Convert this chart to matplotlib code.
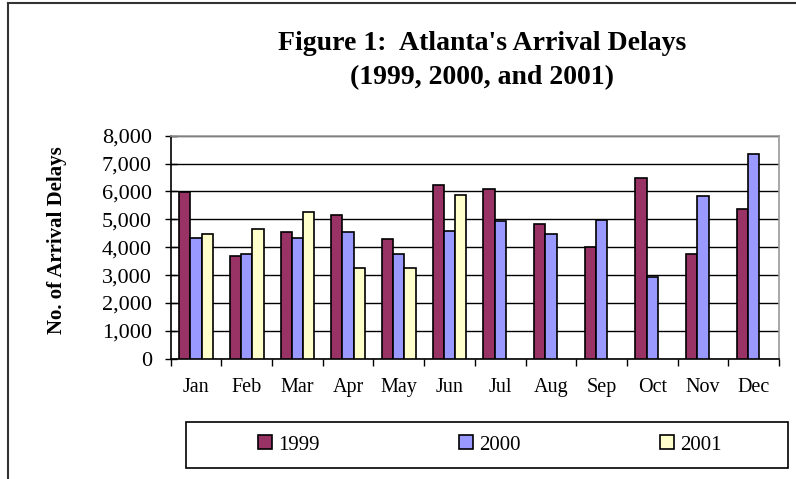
import numpy as np
import matplotlib
matplotlib.use("Agg")
import matplotlib.pyplot as plt
from matplotlib.ticker import FuncFormatter, FixedLocator
from matplotlib.lines import Line2D
from matplotlib.patches import Rectangle

months = ["Jan", "Feb", "Mar", "Apr", "May", "Jun",
          "Jul", "Aug", "Sep", "Oct", "Nov", "Dec"]
delays_1999 = [5970, 3700, 4530, 5170, 4280, 6220, 6090, 4840, 4020, 6470, 3760, 5370]
delays_2000 = [4340, 3740, 4340, 4530, 3740, 4590, 4930, 4460, 4990, 2920, 5840, 7330]
delays_2001 = [4460, 4670, 5250, 3240, 3240, 5890, None, None, None, None, None, None]

series = [("1999", delays_1999, "#993366"),
          ("2000", delays_2000, "#9999FF"),
          ("2001", delays_2001, "#FFFFCC")]

plt.rcParams['font.family'] = ['Liberation Serif', 'DejaVu Serif']

fig = plt.figure(figsize=(7.96, 4.79), dpi=100)
ax = fig.add_axes([0.2144, 0.2511, 0.7643, 0.4656])

x = np.arange(len(months))
w = 1 / 4.5
for i, (name, vals, col) in enumerate(series):
    v = np.array([np.nan if a is None else a for a in vals], dtype=float)
    ax.bar(x + (i - 1) * w, v, width=w, color=col, edgecolor="black",
           linewidth=1.2, label=name, zorder=3)

ax.set_xlim(-0.5, len(months) - 0.5)
ax.set_ylim(0, 8000)
ax.set_yticks(np.arange(0, 8001, 1000))
ax.yaxis.set_major_formatter(FuncFormatter(lambda v, p: f"{int(v):,}"))
ax.grid(axis="y", color="black", linewidth=1, zorder=0)

ax.set_xticks(x)
ax.set_xticklabels(months)
ax.xaxis.set_minor_locator(FixedLocator(np.arange(-0.5, len(months), 1)))
ax.tick_params(axis="x", which="major", length=0, pad=14, labelsize=14.5)
ax.tick_params(axis="x", which="minor", length=5, width=1, direction="out")
ax.tick_params(axis="y", length=9, width=1, direction="inout", pad=9, labelsize=16)

for s in ["left", "bottom"]:
    ax.spines[s].set_color("black")
    ax.spines[s].set_linewidth(1.2)
for s in ["top", "right"]:
    ax.spines[s].set_color("#999999")
    ax.spines[s].set_linewidth(1.2)

fig.text(57 / 796, 1 - 240 / 479, "No. of Arrival Delays", rotation=90,
         ha="center", va="center", fontsize=15, fontweight="bold")

fig.text(482 / 796, 1 - 43 / 479, "Figure 1:  Atlanta's Arrival Delays",
         ha="center", va="center", fontsize=20, fontweight="bold")
fig.text(482 / 796, 1 - 78 / 479, "(1999, 2000, and 2001)",
         ha="center", va="center", fontsize=20, fontweight="bold")

# outer chart border (cropped on right and bottom)
fig.add_artist(Line2D([8 / 796, 1], [1 - 3 / 479, 1 - 3 / 479],
                      transform=fig.transFigure, color="#333333", linewidth=1.5))
fig.add_artist(Line2D([8 / 796, 8 / 796], [0, 1 - 3 / 479],
                      transform=fig.transFigure, color="#333333", linewidth=1.5))

# legend box
fig.add_artist(Rectangle((186 / 796, 1 - 468 / 479), (788 - 186) / 796, 46 / 479,
                         transform=fig.transFigure, facecolor="white",
                         edgecolor="black", linewidth=1.2))
fig.legend(loc="center", bbox_to_anchor=(490 / 796, 1 - 445 / 479), ncol=3,
           frameon=False, fontsize=15, handlelength=0.65, handleheight=0.65,
           handletextpad=0.3, columnspacing=6.7)

fig.savefig("out.png", dpi=100)
